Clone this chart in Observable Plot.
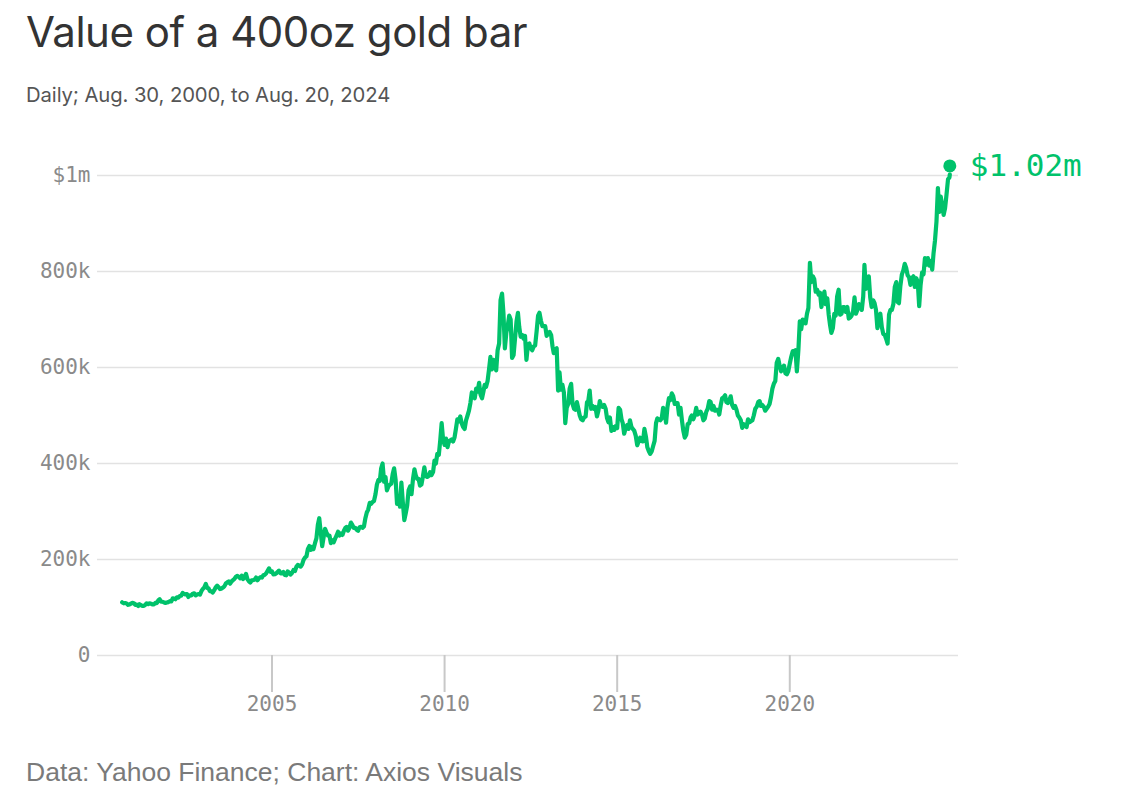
<!DOCTYPE html>
<html>
<head>
<meta charset="utf-8">
<script src="https://cdn.jsdelivr.net/npm/d3@7"></script>
<script src="https://cdn.jsdelivr.net/npm/@observablehq/plot@0.6"></script>
<style>
  html, body { margin: 0; padding: 0; background: #fff; }
  body { width: 1142px; height: 793px; position: relative; overflow: hidden; }
  #title { position: absolute; left: 26px; top: 11px; font: 42px/1 Inter, "Noto Sans", sans-serif; color: #333; letter-spacing: -0.5px; white-space: nowrap; }
  #subtitle { position: absolute; left: 26px; top: 85px; font: 20.3px/1 Inter, "Noto Sans", sans-serif; color: #555; letter-spacing: -0.1px; white-space: nowrap; }
  #chart { position: absolute; left: 0; top: 130px; }
  #footer { position: absolute; left: 26px; top: 759px; font: 26.5px/1 "Liberation Sans", Arial, sans-serif; color: #7a7a7a; white-space: nowrap; }
</style>
</head>
<body>
<div id="title">Value of a 400oz gold bar</div>
<div id="subtitle">Daily; Aug. 30, 2000, to Aug. 20, 2024</div>
<div id="chart"></div>
<div id="footer">Data: Yahoo Finance; Chart: Axios Visuals</div>
<script>
// Value of a 400oz bar, in thousands of US dollars.
// First reading (Aug. 30, 2000), then two readings per month (1st and 16th).
const firstDate = "2000-08-30";
const firstValue = 110.8;
const v2000 = [110.5, 108.8, 109.2, 108.4, 105.6, 106.4, 108, 109.6]; // from September
const v2001 = [108.8, 105.6, 106, 103.2, 106.8, 104.8, 103.2, 103.2, 105.6, 108.8, 107.2, 108.8, 108, 106.4, 106.4, 109.6, 109.2, 114.8, 117.2, 112, 112, 110.4, 109.6, 110.4];
const v2002 = [111.2, 113.2, 112.8, 119.2, 118.8, 117.2, 121.2, 120.4, 124, 124.4, 130.4, 128.4, 127.2, 128, 122, 125.2, 125.2, 128.8, 129.6, 125.2, 127.2, 128, 126.8, 134];
const v2003 = [138.8, 142, 149, 140.8, 140, 134, 133.6, 131.2, 136, 142, 145.6, 142.4, 138.4, 139.2, 141.6, 144, 150, 152.4, 154.4, 149.6, 154.4, 157.2, 159.6, 164];
const v2004 = [166, 163.6, 160.8, 166.4, 159.2, 163.2, 170, 159.2, 154.8, 152, 156.8, 157.2, 158, 162.4, 156.8, 160.8, 163.2, 162.4, 167.2, 168, 171.2, 176.4, 181.6, 174.4];
const v2005 = [175.2, 168.8, 169.2, 171.2, 174, 176.8, 171.2, 171.2, 174, 168, 167.2, 175.2, 172.8, 168.8, 172, 178, 176, 184.8, 188.8, 187.2, 185.2, 190, 199.2, 204];
const v2006 = [206.8, 222, 228, 220, 226, 222, 234, 244, 272, 286, 256, 228, 246, 264, 256, 250, 250, 234, 240, 236, 244, 250, 258, 250];
const v2007 = [254, 251.2, 260, 266, 268, 260, 266, 276.8, 272, 266, 266, 262, 260, 267.2, 268, 266, 268.8, 286, 298, 304, 318, 316, 320, 322];
const v2008 = [336, 356, 366, 364, 390, 400, 362, 372, 344, 352, 356, 358, 378, 390, 366, 316, 332, 310, 360, 320, 282, 296, 312, 344];
const v2009 = [352, 336, 368, 388, 376, 368, 368, 354, 356, 372, 392, 374, 372, 374, 382, 376, 382, 406, 400, 420, 418, 448, 484, 450];
const v2010 = [438.8, 452, 434, 446, 448, 450, 446, 454, 472, 492, 488, 498, 484, 476, 472, 490, 500, 510, 526, 548, 544, 536, 556, 550];
const v2011 = [568, 544, 536, 550, 564, 560, 572, 596, 622, 596, 616, 612, 594, 636, 650, 740, 754, 712, 640, 672, 688, 708, 700, 620];
const v2012 = [626, 660, 696, 714, 684, 664, 668, 660, 666, 616, 648, 650, 640, 636, 644, 646, 676, 708, 714, 698, 686, 686, 686, 666];
const v2013 = [670, 674, 668, 644, 630, 638, 640, 552, 590, 554, 564, 548, 484, 516, 524, 556, 566, 524, 514, 512, 528, 514, 500, 492];
const v2014 = [490, 496, 498, 528, 530, 552, 514, 520, 514, 518, 498, 510, 530, 520, 518, 522, 514, 494, 486, 496, 468, 476, 470, 478];
const v2015 = [474, 516, 512, 492, 484, 462, 474, 480, 472, 490, 476, 472, 468, 458, 438, 446, 454, 447, 446, 472, 456, 434, 426, 420];
const v2016 = [425, 436, 447, 484, 494, 492, 490, 494, 516, 510, 485, 518, 536, 532, 546, 540, 524, 526, 526, 502, 516, 490, 468, 454];
const v2017 = [460, 482, 484, 496, 500, 492, 500, 516, 502, 504, 508, 502, 490, 494, 508, 514, 530, 528, 512, 520, 510, 512, 512, 502];
const v2018 = [522, 536, 538, 542, 528, 526, 532, 540, 522, 516, 520, 512, 500, 496, 490, 474, 482, 480, 476, 492, 486, 488, 490, 500];
const v2019 = [514, 518, 528, 530, 520, 522, 518, 510, 514, 518, 524, 538, 556, 566, 572, 610, 618, 604, 592, 596, 604, 588, 586, 592];
const v2020 = [608, 622, 634, 634, 636, 592, 636, 696, 680, 700, 698, 692, 712, 724, 818, 778, 790, 784, 758, 762, 752, 756, 726, 744];
const v2021 = [758, 732, 744, 710, 690, 672, 682, 712, 708, 748, 762, 710, 712, 726, 726, 716, 726, 702, 704, 708, 718, 746, 712, 720];
const v2022 = [732, 726, 720, 748, 814, 764, 774, 790, 746, 726, 740, 734, 720, 682, 708, 712, 684, 670, 668, 660, 650, 710, 720, 720];
const v2023 = [732, 768, 778, 736, 734, 770, 794, 802, 816, 808, 792, 788, 772, 786, 790, 768, 786, 778, 728, 772, 798, 794, 828, 814];
const v2024 = [828, 812, 822, 804, 838, 864, 904, 974, 924, 956, 938, 918, 932, 960, 992, 996]; // through mid-August
const lastDate = "2024-08-20";
const lastValue = 1002;
const latestValue = 1020; // highlighted end point, "$1.02m"

const yearSeries = [
  [2000, 8, v2000], [2001, 0, v2001], [2002, 0, v2002], [2003, 0, v2003], [2004, 0, v2004],
  [2005, 0, v2005], [2006, 0, v2006], [2007, 0, v2007], [2008, 0, v2008], [2009, 0, v2009],
  [2010, 0, v2010], [2011, 0, v2011], [2012, 0, v2012], [2013, 0, v2013], [2014, 0, v2014],
  [2015, 0, v2015], [2016, 0, v2016], [2017, 0, v2017], [2018, 0, v2018], [2019, 0, v2019],
  [2020, 0, v2020], [2021, 0, v2021], [2022, 0, v2022], [2023, 0, v2023], [2024, 0, v2024]
];

const yTicks = [0, 200, 400, 600, 800, 1000];
const xTickYears = [2005, 2010, 2015, 2020];

const parse = d3.utcParse("%Y-%m-%d");
const data = [{date: parse(firstDate), value: firstValue}];
for (const [year, startMonth, vals] of yearSeries) {
  vals.forEach((v, i) => {
    const month = startMonth + Math.floor(i / 2);
    const day = i % 2 ? 16 : 1;
    data.push({date: new Date(Date.UTC(year, month, day)), value: v});
  });
}
data.push({date: parse(lastDate), value: lastValue});
const latest = [{date: parse(lastDate), value: latestValue}];
const xTicks = xTickYears.map(y => new Date(Date.UTC(y, 0, 1)));

const green = "#00c26b";
const fmtY = d => d === 0 ? "0" : d >= 1000 ? `$${d / 1000}m` : `${d}k`;

const chart = Plot.plot({
  width: 1142,
  height: 600,
  marginLeft: 97,
  marginRight: 184,
  marginTop: 45,
  marginBottom: 75,
  style: {fontFamily: "'DejaVu Sans Mono', monospace", background: "transparent", overflow: "visible"},
  x: {type: "utc", domain: [new Date(Date.UTC(1999, 11, 13)), new Date(Date.UTC(2024, 10, 20))], label: null},
  y: {domain: [0, 1000], label: null},
  marks: [
    Plot.ruleY(yTicks, {stroke: "#e2e2e2", strokeWidth: 1.5}),
    Plot.axisY({ticks: yTicks, tickSize: 0, tickPadding: 7, tickFormat: fmtY, fontSize: 21, fill: "#8a8a8a", label: null}),
    Plot.axisX({ticks: xTicks, tickSize: 37, tickPadding: 4, tickFormat: d3.utcFormat("%Y"),
      fontSize: 21, fill: "#8a8a8a", stroke: "#c8c8c8", strokeWidth: 2, label: null}),
    Plot.lineY(data, {x: "date", y: "value", stroke: green, strokeWidth: 4.2}),
    Plot.dot(latest, {x: "date", y: "value", r: 6.5, fill: green}),
    Plot.text(latest, {x: "date", y: "value", text: d => `$${(d.value / 1000).toFixed(2)}m`, dx: 20,
      textAnchor: "start", fill: green, fontSize: 31})
  ]
});
document.getElementById("chart").appendChild(chart);
</script>
</body>
</html>
